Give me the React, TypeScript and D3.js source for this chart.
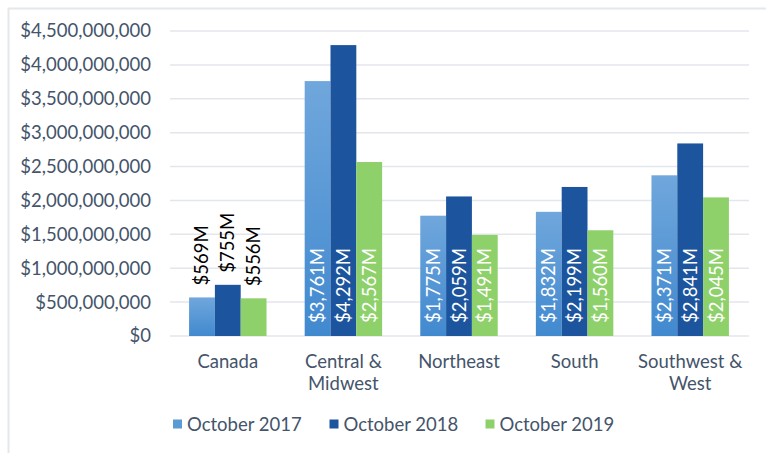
import React from "react";
import * as d3 from "d3";

const categories = [["Canada"], ["Central &", "Midwest"], ["Northeast"], ["South"], ["Southwest &", "West"]];
const seriesNames = ["October 2017", "October 2018", "October 2019"];
const oct2017 = [569, 3761, 1775, 1832, 2371];
const oct2018 = [755, 4292, 2059, 2199, 2841];
const oct2019 = [556, 2567, 1491, 1560, 2045];
const yTicks = [0, 500e6, 1000e6, 1500e6, 2000e6, 2500e6, 3000e6, 3500e6, 4000e6, 4500e6];

const W = 766, H = 453;
const colors = ["url(#g2017)", "#1c559e", "#8ed16b"];
const legendColors = ["#5b9bd5", "#1c559e", "#8ed16b"];
const font = "Lato, 'Open Sans', sans-serif";
const textColor = "#44546a";

export default function App() {
  const series = [oct2017, oct2018, oct2019];
  const idx = d3.range(categories.length);
  const x = d3.scaleBand<number>().domain(idx).range([170, 748]).paddingInner(0.33).paddingOuter(0.165);
  const xs = d3.scaleBand<number>().domain([0, 1, 2]).range([0, x.bandwidth()]);
  const y = d3.scaleLinear().domain([0, 4500e6]).range([336, 31]);
  const fmtTick = (v: number) => "$" + d3.format(",")(v);
  const fmtLabel = (v: number) => "$" + d3.format(",")(v) + "M";

  return (
    <svg width={W} height={H} style={{ position: "absolute", left: 0, top: 0, background: "#fff" }}>
      <defs>
        <linearGradient id="g2017" x1="0" y1="0" x2="0" y2="1">
          <stop offset="0" stopColor="#70a7dc" />
          <stop offset="1" stopColor="#4189cf" />
        </linearGradient>
      </defs>
      <line x1={8} x2={W} y1={8.5} y2={8.5} stroke="#e4e7eb" strokeWidth={2} />
      <line x1={8.5} x2={8.5} y1={8} y2={H} stroke="#e4e7eb" strokeWidth={2} />
      {yTicks.map((t) => (
        <g key={t}>
          <line x1={170} x2={749} y1={y(t)} y2={y(t)} stroke="#e3e6ec" strokeWidth={1.5} />
          <text x={151} y={y(t)} dy="0.35em" textAnchor="end" fontFamily={font} fontSize={18.5} fill={textColor}>
            {fmtTick(t)}
          </text>
        </g>
      ))}
      {categories.map((c, i) => (
        <g key={i}>
          {series.map((s, j) => {
            const bx = (x(i) as number) + (xs(j) as number);
            const bw = xs.bandwidth();
            const v = s[i] * 1e6;
            const cx = bx + bw / 2;
            const inside = i !== 0;
            const ly = inside ? 323 : y(v) - 12;
            return (
              <g key={j}>
                <rect x={bx} y={y(v)} width={bw} height={336 - y(v)} fill={colors[j]} />
                <text
                  transform={`translate(${cx + 6.5},${ly}) rotate(-90)`}
                  fontFamily={font}
                  fontSize={18.5}
                  fill={inside ? "#ffffff" : "#000000"}
                >
                  {fmtLabel(s[i])}
                </text>
              </g>
            );
          })}
          {c.map((line, k) => (
            <text key={k} x={(x(i) as number) + x.bandwidth() / 2} y={368 + k * 21.5} textAnchor="middle" fontFamily={font} fontSize={18.5} fill={textColor}>
              {line}
            </text>
          ))}
        </g>
      ))}
      {seriesNames.map((n, j) => {
        const lx = [173, 329.5, 485.5][j];
        return (
          <g key={n}>
            <rect x={lx} y={419.5} width={9} height={9} fill={legendColors[j]} />
            <text x={lx + 14} y={431} fontFamily={font} fontSize={18.5} fill={textColor}>
              {n}
            </text>
          </g>
        );
      })}
    </svg>
  );
}
